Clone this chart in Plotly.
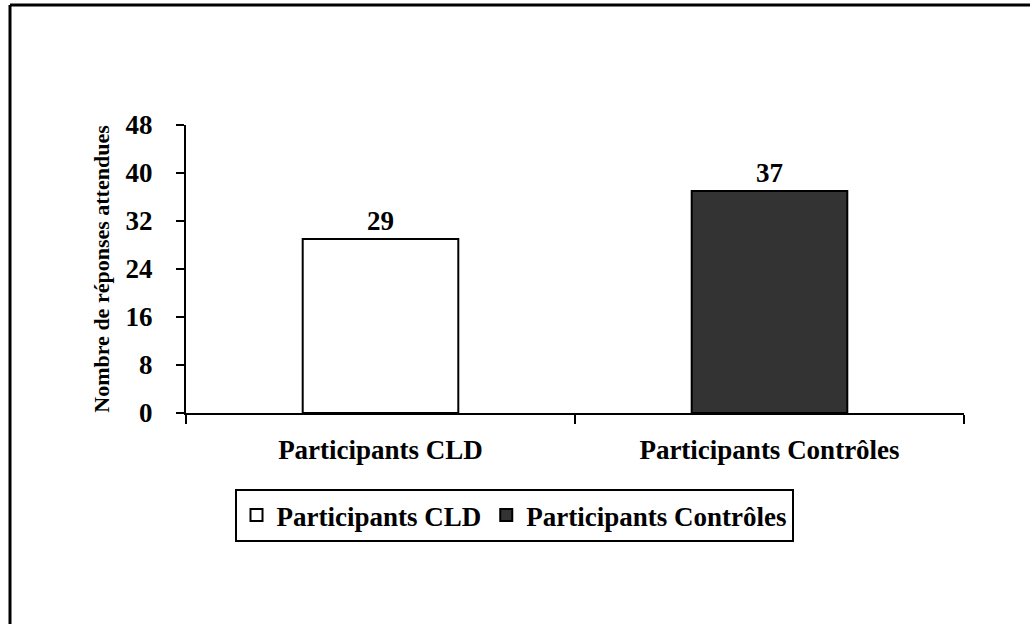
import plotly.graph_objects as go

categories = ["Participants CLD", "Participants Contrôles"]
values = [29, 37]
bar_colors = ["#ffffff", "#333333"]
y_ticks = [0, 8, 16, 24, 32, 40, 48]

W, H = 1030, 624
L, R, T, B = 186, 66, 125, 211
pw, ph = W - L - R, H - T - B

def px_x(x):
    return (x - L) / pw

def px_y(y):
    return (H - B - y) / ph

FONT = "Liberation Serif, Times New Roman, serif"

fig = go.Figure()
for cat, val, col in zip(categories, values, bar_colors):
    fig.add_trace(go.Bar(
        x=[cat], y=[val], name=cat,
        marker=dict(color=col, line=dict(color="black", width=2)),
        width=0.4,
        text=[f"<b>{val}</b>"], textposition="outside",
        textfont=dict(family=FONT, size=27, color="black"),
        cliponaxis=False,
    ))

# page frame (left and top edges)
fig.add_shape(type="line", xref="paper", yref="paper",
              x0=px_x(10), y0=px_y(5), x1=px_x(1040), y1=px_y(5),
              line=dict(color="black", width=3))
fig.add_shape(type="line", xref="paper", yref="paper",
              x0=px_x(10), y0=px_y(5), x1=px_x(10), y1=px_y(640),
              line=dict(color="black", width=3))

fig.update_layout(
    width=W, height=H,
    margin=dict(l=L, r=R, t=T, b=B, autoexpand=False),
    paper_bgcolor="white", plot_bgcolor="white",
    font=dict(family=FONT, color="black"),
    bargap=0.6,
    showlegend=True,
    legend=dict(
        orientation="h",
        x=px_x(514), xanchor="center",
        y=px_y(489), yanchor="top",
        bordercolor="black", borderwidth=2,
        font=dict(family=FONT, size=27, color="black", weight="bold"),
        itemwidth=30,
        tracegroupgap=0,
    ),
    xaxis=dict(
        showline=True, linecolor="black", linewidth=2,
        ticks="outside", ticklen=9, tickwidth=2, tickcolor="black",
        tickson="boundaries",
        ticklabelstandoff=12,
        tickfont=dict(family=FONT, size=27, color="black", weight="bold"),
        showgrid=False,
    ),
    yaxis=dict(
        range=[0, 48], tickvals=y_ticks,
        showline=True, linecolor="black", linewidth=2,
        ticks="outside", ticklen=8, tickwidth=2, tickcolor="black",
        ticklabelstandoff=18,
        tickfont=dict(family=FONT, size=27, color="black", weight="bold"),
        showgrid=False, zeroline=False,
        title=dict(text="Nombre de réponses attendues", standoff=10,
                   font=dict(family=FONT, size=22, color="black", weight="bold")),
    ),
)

fig.write_html("out.html")
